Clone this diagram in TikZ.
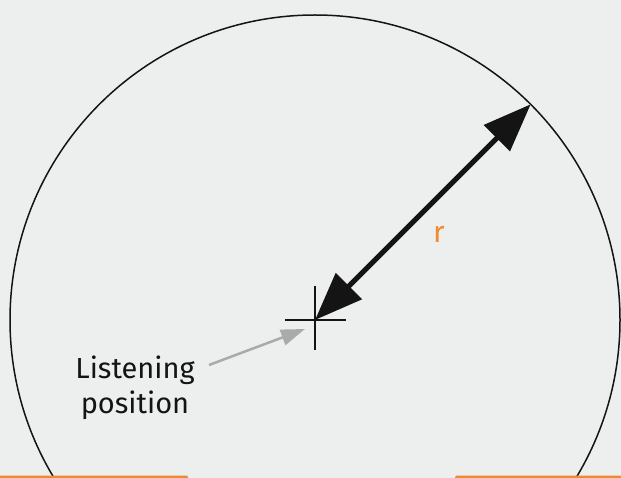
\documentclass[tikz,border=0pt]{standalone}
\usepackage{fontspec}
\setmainfont{Fira Sans}
\usetikzlibrary{arrows.meta}
\definecolor{bgc}{RGB}{237,238,238}
\definecolor{orangec}{RGB}{240,138,48}
\definecolor{grayc}{RGB}{170,170,170}
\definecolor{inkc}{RGB}{20,20,20}
\tikzset{
  rim/.style={draw=inkc,line width=1.5pt},
  crossline/.style={draw=inkc,line width=2pt},
  radius arrow/.style={draw=inkc,line width=5pt,{Triangle[length=48pt,width=36pt]}-{Triangle[length=48pt,width=36pt]}},
  pointer/.style={draw=grayc,line width=2.5pt,-{Triangle[length=24pt,width=16pt]}},
  label/.style={font=\fontsize{29pt}{35pt}\selectfont,text=inkc,align=center,inner sep=0pt},
  rlabel/.style={font=\fontsize{30pt}{36pt}\selectfont,text=orangec,inner sep=0pt},
  bar/.style={fill=orangec,draw=none}
}
\begin{document}
\begin{tikzpicture}[x=1pt,y=-1pt]
\fill[bgc] (0,0) rectangle (621,478);
\useasboundingbox (0,0) rectangle (621,478);
\begin{scope}
\clip (0,0) rectangle (621,478);
\coordinate (c) at (315,320);
\coordinate (rimpt) at (530.7,104.3);
\draw[rim] (c) circle (305);
\draw[crossline] (285,320) -- (346,320);
\draw[crossline] (315,286) -- (315,350);
\draw[radius arrow] (c) -- (rimpt);
\node[rlabel] (r) at (439,234) {r};
\node[label,anchor=base] (lp) at (135,413) {Listening\\position};
\coordinate (lpstart) at (209,365);
\coordinate (lptip) at (305,329);
\draw[pointer] (lpstart) -- (lptip);
\fill[bar,rounded corners=1.5pt] (-5,475.5) rectangle (188,481);
\fill[bar,rounded corners=1.5pt] (455,475.5) rectangle (626,481);
\end{scope}
\end{tikzpicture}
\end{document}
